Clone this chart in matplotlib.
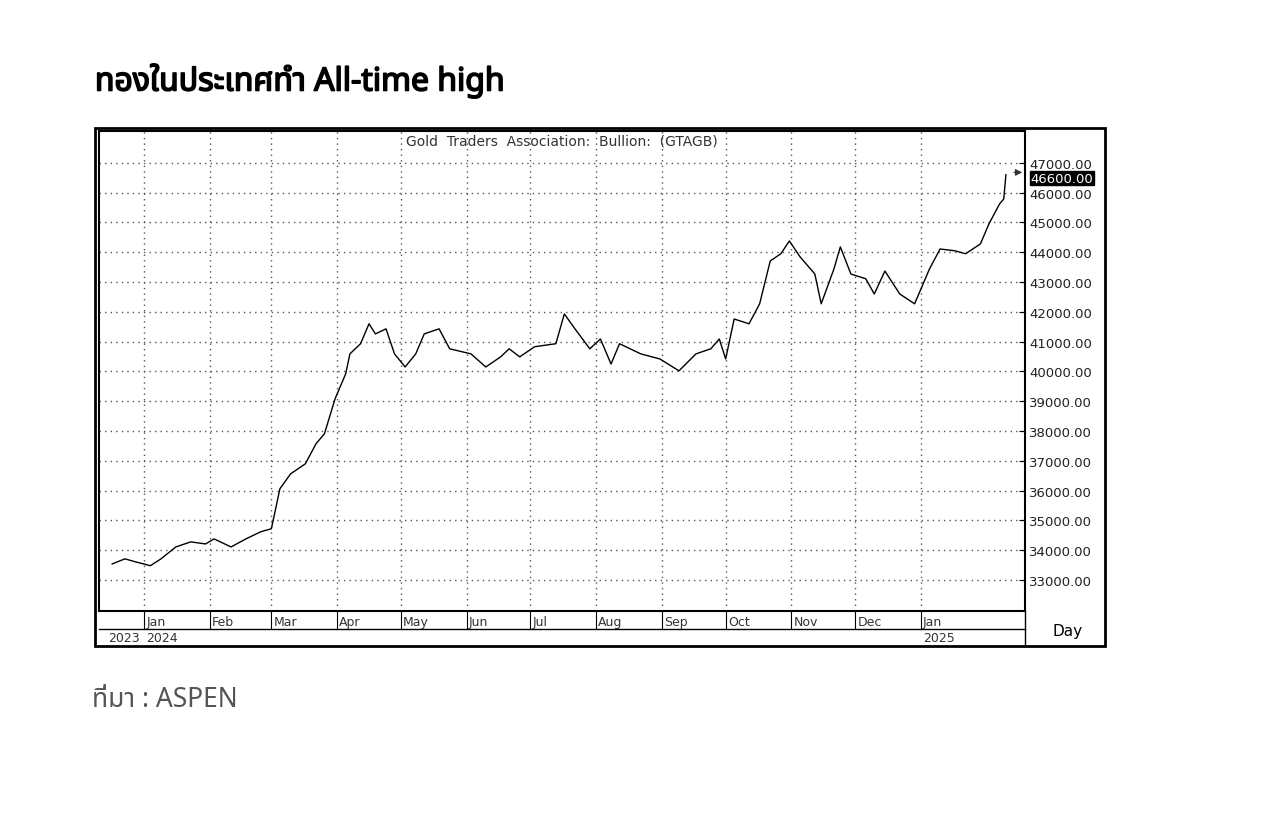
import matplotlib
matplotlib.use("Agg")
import matplotlib.pyplot as plt
import matplotlib.patheffects as pe
from matplotlib.transforms import blended_transform_factory
from matplotlib.patches import Rectangle

days = [-15,-9,-4,3,8,15,22,29,33,41,48,55,60,64,69,76,81,85,90,95,97,102,106,109,114,118,123,128,132,139,144,154,161,168,172,177,184,194,198,203,210,215,220,224,234,243,252,260,267,271,274,278,285,290,295,300,304,309,316,319,325,328,333,340,344,349,356,363,370,375,382,387,394,398,403,405,406]
prices = [33540,33710,33610,33480,33710,34110,34280,34210,34380,34110,34380,34620,34720,36060,36560,36900,37570,37910,39080,39920,40590,40930,41600,41260,41430,40590,40150,40590,41260,41430,40760,40590,40150,40490,40760,40490,40830,40930,41930,41430,40760,41090,40250,40930,40590,40420,40020,40590,40760,41090,40420,41760,41600,42270,43710,43950,44380,43850,43270,42270,43440,44180,43270,43110,42600,43370,42600,42270,43440,44110,44050,43950,44280,44950,45620,45790,46600]
month_days = [0,31,60,91,121,152,182,213,244,274,305,335,366]
month_labels = ["Jan","Feb","Mar","Apr","May","Jun","Jul","Aug","Sep","Oct","Nov","Dec","Jan"]
ytick_vals = list(range(33000, 47001, 1000))
last_price = 46600

plt.rcParams['font.family'] = ['Noto Sans Thai', 'Noto Sans', 'DejaVu Sans']
W, H = 1280, 829
fig = plt.figure(figsize=(12.8, 8.29), dpi=100)
ax = fig.add_axes([99/W, 1-612/H, (1025-99)/W, (612-132)/H])
ax.plot(days, prices, color='black', lw=1.0)
ax.set_xlim(-21.2, 415)
ax.set_ylim(31960, 48070)
ax.set_xticks(month_days)
ax.set_xticklabels([])
ax.set_yticks(ytick_vals)
ax.yaxis.tick_right()
ax.set_yticklabels([f"{v:.2f}" for v in ytick_vals], fontsize=9.5, family='DejaVu Sans', color='#222')
ax.tick_params(axis='y', direction='in', length=4, pad=3)
ax.tick_params(axis='x', length=0)
ax.grid(True, color='#555', linestyle=(0, (1, 3)), lw=1)
for s in ax.spines.values():
    s.set_linewidth(1.5)
ax.text(0.5, 0.995, "Gold  Traders  Association:  Bullion:  (GTAGB)", transform=ax.transAxes,
        ha='center', va='top', fontsize=10, color='#333', family='DejaVu Sans')
ax.annotate(f"{last_price:.2f}", xy=(1.0, last_price - 120), xycoords=('axes fraction', 'data'),
            xytext=(4, 0), textcoords='offset points', ha='left', va='center', fontsize=9.5,
            color='white', family='DejaVu Sans', bbox=dict(facecolor='black', edgecolor='black', pad=0.3))
ax.annotate("", xy=(1.0, last_price + 80), xycoords=('axes fraction', 'data'),
            xytext=(-10, 0), textcoords='offset points', arrowprops=dict(arrowstyle='-|>', color='#333', lw=0.8))

fig.add_artist(Rectangle((95/W, 1-647/H), (1105-95)/W, (647-129)/H, transform=fig.transFigure,
                         fill=False, lw=2, ec='black'))
fig.add_artist(plt.Line2D([99/W, 1025/W], [1-630/H, 1-630/H], color='black', lw=1))
fig.add_artist(plt.Line2D([1025/W, 1025/W], [1-647/H, 1-612/H], color='black', lw=1))
tr = blended_transform_factory(ax.transData, fig.transFigure)
for d, lab in zip(month_days, month_labels):
    ax.plot([d, d], [1-630/H, 1-612/H], transform=tr, color='black', lw=0.8, clip_on=False)
    ax.text(d + 1, 1-623/H, lab, transform=tr, fontsize=9, va='center', ha='left', color='#333', family='DejaVu Sans')
ax.text(-2, 1-639/H, "2023", transform=tr, fontsize=9, va='center', ha='right', color='#333', family='DejaVu Sans')
ax.text(1, 1-639/H, "2024", transform=tr, fontsize=9, va='center', ha='left', color='#333', family='DejaVu Sans')
ax.text(367, 1-639/H, "2025", transform=tr, fontsize=9, va='center', ha='left', color='#333', family='DejaVu Sans')
fig.text(1068/W, 1-632/H, "Day", fontsize=11, ha='center', va='center', family='DejaVu Sans')

fig.text(95/W, 1-82/H, "ทองในประเทศทำ All-time high", fontsize=23, fontweight='bold', ha='left', va='center',
         path_effects=[pe.withStroke(linewidth=1.2, foreground='black')])
fig.text(92/W, 1-700/H, "ที่มา : ASPEN", fontsize=19, color='#555', ha='left', va='center')
fig.savefig("out.png", dpi=100)
